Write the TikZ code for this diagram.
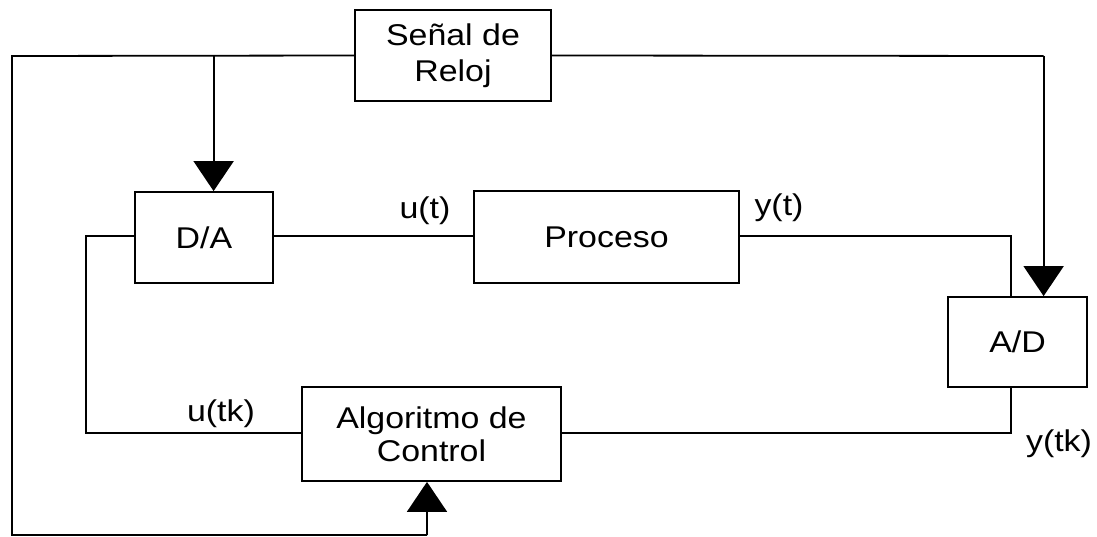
\documentclass[tikz,border=0pt]{standalone}
\usepackage{fontspec}
\setmainfont{Liberation Sans}
\newfontfamily\labelfont[FakeStretch=1.13]{Liberation Sans}
\usetikzlibrary{arrows.meta}
\tikzset{
  blk/.style={draw, line width=1.8pt, rectangle, inner sep=0pt, align=center,
    font=\labelfont\fontsize{30}{36}\selectfont},
  wire/.style={line width=1.8pt},
  clkarrow/.style={wire, -{Triangle[width=40pt,length=30pt]}},
  sig/.style={font=\labelfont\fontsize{30}{36}\selectfont, inner sep=0pt}
}
\begin{document}
\begin{tikzpicture}[x=1pt,y=-1pt]
  \useasboundingbox (0,0) rectangle (1097,537);

  % blocks
  \node[blk, minimum width=196pt, minimum height=91pt] (clk) at (453,55.5) {Señal de\\Reloj};
  \node[blk, minimum width=138pt, minimum height=91pt] (da) at (204,237.5) {D/A};
  \node[blk, minimum width=265pt, minimum height=92pt] (proc) at (606.5,237) {Proceso};
  \node[blk, minimum width=139pt, minimum height=90pt] (ad) at (1017.5,342) {A/D};
  \node[blk, minimum width=259pt, minimum height=94pt, font=\labelfont\fontsize{30}{33}\selectfont] (ctrl) at (431.5,434) {Algoritmo de\\Control};

  % signal labels
  \node[sig] (ut) at (425,211) {u(t)};
  \node[sig] (yt) at (779,208) {y(t)};
  \node[sig] (utk) at (221,414) {u(tk)};
  \node[sig] (ytk) at (1059,444) {y(tk)};

  % clock distribution
  \coordinate (jda) at (213.6,56);
  \coordinate (lefttop) at (12,56);
  \coordinate (leftbot) at (12,535);
  \coordinate (ctrlbot) at (427,535);
  \coordinate (adclk) at (1043.6,56);

  \draw[wire] (clk.west) -- (lefttop) -- (leftbot) -- (ctrlbot);
  \draw[clkarrow] (ctrlbot) -- (ctrlbot |- ctrl.south);
  \draw[clkarrow] (jda) -- (jda |- da.north);
  \draw[wire] (clk.east) -- (adclk);
  \draw[clkarrow] (adclk) -- (adclk |- ad.north);

  % signal path
  \coordinate (yturn) at (1011,236);
  \coordinate (yktur) at (1011,433);
  \coordinate (uktur) at (86,433);
  \coordinate (utur) at (86,236);
  \draw[wire] (da.east |- 0,236) -- (proc.west |- 0,236);
  \draw[wire] (proc.east |- yturn) -- (yturn) -- (yturn |- ad.north);
  \draw[wire] (yturn |- ad.south) -- (yktur) -- (ctrl.east |- yktur);
  \draw[wire] (ctrl.west |- uktur) -- (uktur) -- (utur) -- (da.west |- utur);
\end{tikzpicture}
\end{document}
